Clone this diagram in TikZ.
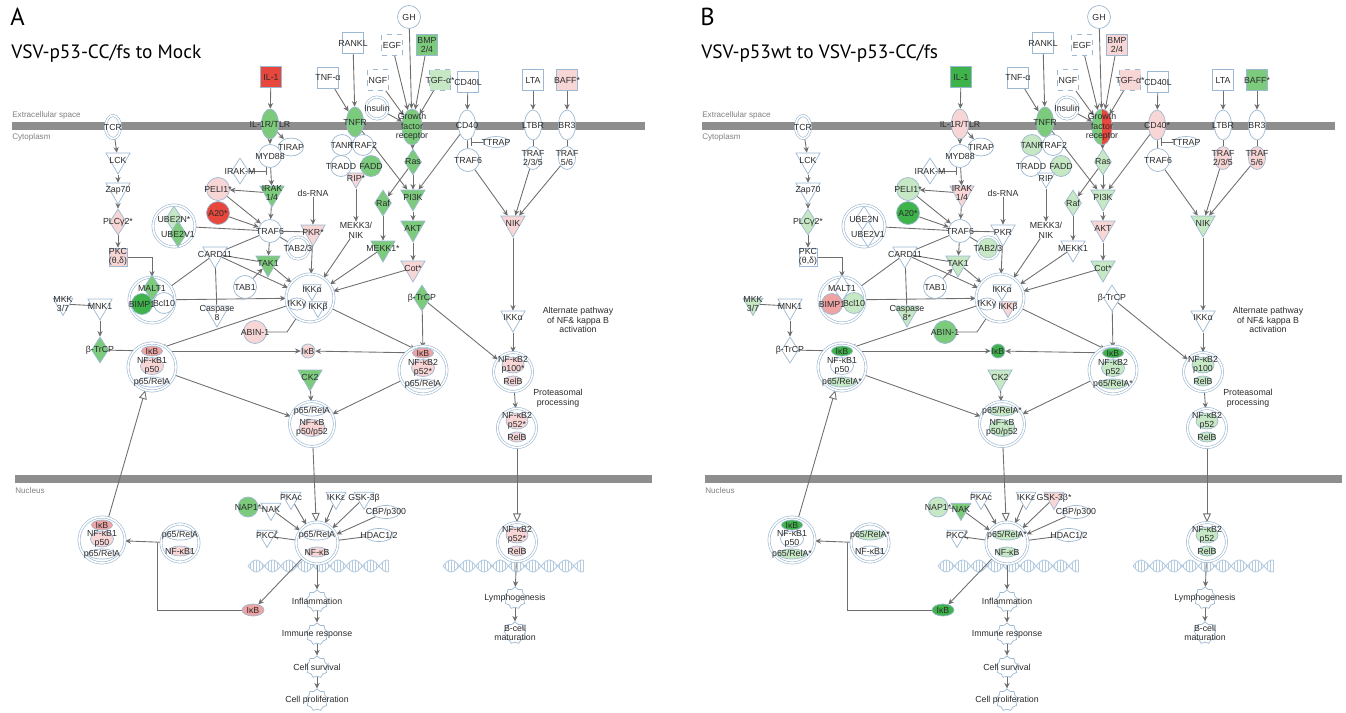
\documentclass[tikz,border=0pt]{standalone}
\usepackage{fontspec}
\setmainfont{Liberation Sans}
\newfontfamily\ttlfont{PT Sans}
\usetikzlibrary{arrows.meta,shapes.geometric,shapes.symbols}
\definecolor{outl}{HTML}{9DB8D2}
\definecolor{ecol}{HTML}{6E6E6E}
\definecolor{barc}{HTML}{8E8E8E}
\definecolor{txt}{HTML}{2B2B2B}
\definecolor{r3}{HTML}{E8473D}
\definecolor{r2}{HTML}{F0A3A3}
\definecolor{r1}{HTML}{F8D6D6}
\definecolor{g3}{HTML}{3DB34A}
\definecolor{g2}{HTML}{7CCB7C}
\definecolor{g1}{HTML}{C7E8C4}
\definecolor{dnac}{HTML}{B5CCE0}
\pgfdeclarelayer{back}
\pgfdeclarelayer{edges}
\pgfsetlayers{back,edges,main}
% panel switch: first value in panel A, second in panel B
\newcommand\ab[2]{\ifnum\pn=1 #1\else #2\fi}
\tikzset{
  mol/.style={draw=outl, fill=white, line width=0.4pt, inner sep=0pt},
  fl/.code 2 args={\ifnum\pn=1 \tikzset{fill=#1}\else\tikzset{fill=#2}\fi},
  gfr/.code={\ifnum\pn=2 \tikzset{path picture={\fill[name prefix=, r3] (path picture bounding box.north) rectangle (path picture bounding box.south east);}}\fi},
  lab/.style={font=\fontsize{5}{5.5}\selectfont, text=txt, align=center, inner sep=0pt},
  t/.style={label={[lab]center:#1}},
  bx/.style={mol, rectangle, minimum size=0.42cm},
  dbx/.style={bx, dashed},
  cir/.style={mol, circle, minimum size=0.46cm},
  rec/.style={mol, ellipse, minimum width=0.34cm, minimum height=0.6cm},
  hel/.style={mol, ellipse, minimum width=0.56cm, minimum height=0.26cm},
  kin/.style={mol, regular polygon, regular polygon sides=3, shape border rotate=180, minimum size=0.56cm},
  dia/.style={mol, diamond, minimum width=0.34cm, minimum height=0.52cm},
  cpx/.style={draw=outl, double=white, double distance=0.9pt, line width=0.35pt, circle, fill=white, inner sep=0pt, minimum size=#1},
  sub/.style={mol, ellipse, minimum width=#1, minimum height=0.2cm},
  sub/.default=0.42cm,
  fn/.style={mol, star, star points=9, star point ratio=1.2, minimum size=0.44cm},
  ln/.style={draw=ecol, line width=0.5pt},
  edge/.style={ln, -{Stealth[length=3.2pt, width=3pt]}},
  inh/.style={ln, -{Bar[width=4pt]}},
  trans/.style={ln, -{Triangle[open, length=5pt, width=4.5pt]}},
  area/.style={font=\fontsize{4.6}{5}\selectfont, text=gray, anchor=west, inner sep=0pt},
}
\begin{document}
\begin{tikzpicture}[x=0.02cm, y=-0.02cm]
  \useasboundingbox (0,0) rectangle (1346,713);
  \foreach \pn/\dx in {1/0,2/690} {
  \begin{scope}[shift={(\dx,0)}, name prefix=p\pn-]
  % membranes and DNA
  \begin{pgfonlayer}{back}
    \fill[barc] (12,122) rectangle (645,130);
    \fill[barc] (15,475) rectangle (652,483);
    \foreach \a/\b in {248/388,443/583} {
      \draw[dnac, line width=0.5pt] plot[domain=\a:\b, samples=70] (\x,{566+6*sin(11*(\x-\a))});
      \draw[dnac, line width=0.5pt] plot[domain=\a:\b, samples=70] (\x,{566-6*sin(11*(\x-\a))});
      \foreach \u in {2,5,...,140}
        \draw[dnac, line width=0.3pt] ({\a+\u},{566+6*sin(11*\u)}) -- ({\a+\u},{566-6*sin(11*\u)});
    }
  \end{pgfonlayer}
  \node[anchor=west, font=\ttlfont\fontsize{14}{14}\selectfont, inner sep=0pt] (tag) at (10,17) {\ab{A}{B}};
  \node[anchor=west, font=\ttlfont\fontsize{11}{12}\selectfont, inner sep=0pt] (cmp) at (11,54) {\ab{VSV-p53-CC/fs to Mock}{VSV-p53wt to VSV-p53-CC/fs}};
  \node[area] (ecs) at (12,115) {Extracellular space};
  \node[area] (cyt) at (12,137) {Cytoplasm};
  \node[area] (nuc) at (15,491) {Nucleus};
  % IL-1 / TCR branch
  \node[bx, fl={r3}{g3}, t=IL-1] (il1) at (271,77) {};
  \node[rec, fl={g2}{r1}, t=IL-1R/TLR] (ilr) at (270,124) {};
  \node[hel, minimum width=0.5cm, minimum height=0.36cm, t=TIRAP] (tirap) at (291,147) {};
  \node[cir, t=MYD88] (myd) at (270,156) {};
  \node[dia, t=IRAK-M] (irakm) at (240,171) {};
  \node[cir, fl={r1}{g1}, t=PELI1*] (peli) at (218,189) {};
  \node[kin, fl={g2}{r1}, t={IRAK\\1/4}] (irak) at (272,193) {};
  \node[cir, fl={r3}{g3}, t=A20*] (a20) at (218,213) {};
  \node[lab] (dsrna) at (313,193) {ds-RNA};
  \node[cpx=0.84cm] (ube) at (174,226) {};
  \node[dia, fl={g1}{white}, t=\ab{UBE2N*}{UBE2N}] (ube2n) at (174,219) {};
  \node[dia, fl={g2}{white}, t=UBE2V1] (ube2v) at (178,234) {};
  \node[cir, t=TRAF6] (traf6) at (270,231) {};
  \node[kin, fl={r1}{white}, t=\ab{PKR*}{PKR}] (pkr) at (313,232) {};
  \node[cpx=0.3cm, ellipse, minimum height=0.46cm, t=TCR] (tcr) at (113,127) {};
  \node[kin, t=LCK] (lck) at (118,160) {};
  \node[kin, t=Zap70] (zap) at (118,190) {};
  \node[dia, fl={r1}{g1}, t=PLCγ2*] (plc) at (118,222) {};
  \node[bx, fl={r1}{white}, minimum size=0.36cm, t={PKC\\(θ,δ)}] (pkc) at (118,257) {};
  \node[kin, t=CARD11] (card) at (215,254) {};
  \node[kin, fl={g2}{g1}, t=TAK1] (tak1) at (268,263) {};
  \node[cpx=0.44cm, fl={white}{g1}, t=TAB2/3] (tab23) at (298,248) {};
  \node[cir, t=TAB1] (tab1) at (245,287) {};
  \node[cpx=0.92cm] (malt) at (152,300) {};
  \node[dia, fl={g2}{white}, t=MALT1] (malt1) at (152,288) {};
  \node[cir, fl={g3}{r2}, minimum size=0.42cm, t=BIMP1] (bimp) at (142,304) {};
  \node[cir, fl={white}{g1}, minimum size=0.42cm, t=Bcl10] (bcl) at (164,303) {};
  \node[kin, fl={white}{g1}, t={Caspase\\\ab{8}{8*}}] (casp) at (217,313) {};
  \node[cpx=0.96cm] (ikk) at (310,298) {};
  \node[kin, minimum size=0.42cm, t=IKKα] (ikka) at (312,290) {};
  \node[hel, minimum width=0.36cm, minimum height=0.24cm, t=IKKγ] (ikkg) at (297,304) {};
  \node[kin, fl={white}{r1}, minimum size=0.42cm, t=IKKβ] (ikkb) at (318,307) {};
  \node[cir, fl={r1}{g2}, t=ABIN-1] (abin) at (255,332) {};
  \node[kin, fl={white}{g1}, minimum size=0.46cm, t={MKK\\3/7}] (mkk) at (63,304) {};
  \node[kin, t=MNK1] (mnk) at (100,306) {};
  \node[dia, fl={g2}{white}, t=β-TrCP] (btrl) at (100,350) {};
  \node[cpx=0.96cm] (lcx) at (152,367) {};
  \node[sub, fl={r2}{g3}, t=IκB] (likb) at (152,351) {};
  \node[sub=0.46cm, fl={r1}{white}, minimum height=0.34cm, t={NF-κB1\\p50}] (lnf) at (152,366) {};
  \node[sub=0.56cm, fl={white}{g1}, t=\ab{p65/RelA}{p65/RelA*}] (lp65) at (152,382) {};
  \node[mol, circle, minimum size=0.28cm, fl={r1}{g3}, t=IκB] (ikbm) at (308,351) {};
  \node[kin, fl={g2}{g1}, t=CK2] (ck2) at (310,377) {};
  \node[cpx=0.9cm] (pcx) at (312,424) {};
  \node[sub=0.54cm, fl={white}{g1}, t=\ab{p65/RelA}{p65/RelA*}] (pp65) at (312,411) {};
  \node[sub=0.52cm, fl={r1}{g1}, minimum height=0.34cm, t={NF-κB\\p50/p52}] (pnf) at (312,428) {};
  % ligands and receptors
  \node[cir, t=GH] (gh) at (409,17) {};
  \node[bx, t=RANKL] (rankl) at (353,43) {};
  \node[dbx, t=EGF] (egf) at (392,45) {};
  \node[bx, fl={g2}{r1}, t={BMP\\2/4}] (bmp) at (427,45) {};
  \node[bx, t=TNF-α] (tnfa) at (328,78) {};
  \node[dbx, t=NGF] (ngf) at (378,80) {};
  \node[dbx, fl={g1}{r1}, t=TGF-α*] (tgfa) at (440,80) {};
  \node[bx, t=CD40L] (cd40l) at (468,82) {};
  \node[bx, t=LTA] (lta) at (533,80) {};
  \node[bx, fl={r1}{g2}, t=BAFF*] (baff) at (567,80) {};
  \node[cpx=0.44cm, t=Insulin] (ins) at (377,108) {};
  \node[rec, fl={g2}{g2}, t=TNFR] (tnfr) at (355,122) {};
  \node[rec, fl={g2}{g2}, gfr, minimum width=0.4cm, minimum height=0.72cm, t={Growth\\factor\\receptor}] (gfr) at (412,127) {};
  \node[rec, fl={white}{r1}, t=\ab{CD40}{CD40*}] (cd40) at (467,125) {};
  \node[hel, minimum width=0.5cm, minimum height=0.22cm, t=TTRAP] (ttrap) at (496,142) {};
  \node[cir, t=TRAF6] (trafr) at (468,160) {};
  \node[rec, t=LTBR] (ltbr) at (533,125) {};
  \node[rec, t=BR3] (br3) at (567,125) {};
  \node[rec, fl={white}{r1}, minimum height=0.46cm, t={TRAF\\2/3/5}] (traf235) at (533,158) {};
  \node[rec, fl={white}{r1}, minimum height=0.46cm, t={TRAF\\5/6}] (traf56) at (567,158) {};
  \node[cir, fl={white}{g1}, minimum size=0.42cm, t=TANK] (tank) at (342,145) {};
  \node[cir, minimum size=0.42cm, t=TRAF2] (traf2) at (363,145) {};
  \node[cir, minimum size=0.42cm, t=TRADD] (tradd) at (341,166) {};
  \node[cir, fl={g2}{g1}, minimum size=0.42cm, t=FADD] (fadd) at (371,166) {};
  \node[kin, fl={r1}{white}, minimum size=0.4cm, t=\ab{RIP*}{RIP}] (rip) at (356,178) {};
  \node[dia, fl={g2}{g1}, t=Ras] (ras) at (413,162) {};
  \node[kin, fl={g2}{g1}, t=PI3K] (pi3k) at (413,197) {};
  \node[dia, fl={g2}{g1}, t=Raf] (raf) at (383,203) {};
  \node[kin, fl={g2}{r1}, t=AKT] (akt) at (413,228) {};
  \node[lab] (mekk3) at (356,230) {MEKK3/\\NIK};
  \node[kin, fl={g2}{white}, t=\ab{MEKK1*}{MEKK1}] (mekk1) at (383,248) {};
  \node[kin, fl={r1}{g1}, t=Cot*] (cot) at (413,268) {};
  \node[dia, fl={g2}{white}, t=β-TrCP] (btrr) at (422,298) {};
  \node[cpx=0.96cm] (rcx) at (423,370) {};
  \node[sub, fl={r2}{g3}, t=IκB] (rikb) at (423,353) {};
  \node[sub=0.46cm, fl={r1}{g1}, minimum height=0.34cm, t={NF-κB2\\\ab{p52*}{p52}}] (rnf) at (423,368) {};
  \node[sub=0.56cm, fl={white}{g1}, t=\ab{p65/RelA}{p65/RelA*}] (rp65) at (423,384) {};
  % alternate pathway
  \node[kin, fl={r1}{g1}, t=NIK] (nik) at (513,223) {};
  \node[kin, t=IKKα] (ikka2) at (513,318) {};
  \node[lab] (altp) at (578,320) {Alternate pathway\\of NF\& kappa B\\activation};
  \node[cpx=0.78cm] (p100) at (513,372) {};
  \node[sub=0.44cm, fl={r1}{g1}, minimum height=0.32cm, t={NF-κB2\\\ab{p100*}{p100}}] (p100a) at (513,365) {};
  \node[sub=0.34cm, fl={r1}{g1}, t=RelB] (relb1) at (513,381) {};
  \node[lab] (prot) at (558,398) {Proteasomal\\processing};
  \node[cpx=0.78cm] (p52c) at (517,428) {};
  \node[sub=0.44cm, fl={r1}{g1}, minimum height=0.32cm, t={NF-κB2\\\ab{p52*}{p52}}] (p52a) at (517,421) {};
  \node[sub=0.34cm, fl={r1}{g1}, t=RelB] (relb2) at (517,437) {};
  % nucleus
  \node[cpx=0.92cm] (nlcx) at (102,540) {};
  \node[sub, fl={r2}{g3}, t=IκB] (nlikb) at (102,525) {};
  \node[sub=0.46cm, fl={r1}{white}, minimum height=0.32cm, t={NF-κB1\\p50}] (nlnf) at (102,539) {};
  \node[sub=0.56cm, fl={white}{g1}, t=\ab{p65/RelA}{p65/RelA*}] (nlp65) at (102,554) {};
  \node[cpx=0.76cm] (nmcx) at (180,543) {};
  \node[sub=0.56cm, fl={white}{g1}, t=\ab{p65/RelA}{p65/RelA*}] (nmp65) at (180,535) {};
  \node[sub=0.46cm, fl={r1}{white}, t=NF-κB1] (nmnf) at (180,551) {};
  \node[cir, fl={g2}{g1}, minimum size=0.4cm, t=NAP1*] (nap1) at (248,507) {};
  \node[kin, fl={white}{g2}, minimum size=0.46cm, t=NAK] (nak) at (271,509) {};
  \node[kin, minimum size=0.46cm, t=PKAc] (pkac) at (291,498) {};
  \node[kin, minimum size=0.46cm, t=PKCζ] (pkcz) at (267,536) {};
  \node[kin, minimum size=0.46cm, t=IKKε] (ikke) at (336,498) {};
  \node[kin, fl={white}{r1}, minimum size=0.46cm, t=\ab{GSK-3β}{GSK-3β*}] (gsk) at (364,498) {};
  \node[hel, t=CBP/p300] (cbp) at (386,512) {};
  \node[hel, t=HDAC1/2] (hdac) at (379,535) {};
  \node[cpx=0.84cm] (ncx) at (317,543) {};
  \node[sub=0.56cm, fl={white}{g1}, t=\ab{p65/RelA}{p65/RelA*}] (np65) at (317,535) {};
  \node[sub=0.42cm, fl={r1}{g1}, t=NF-κB] (nnf) at (317,552) {};
  \node[sub=0.44cm, fl={r2}{g3}, minimum height=0.24cm, t=IκB] (nikb) at (253,610) {};
  \node[fn, t=Inflammation] (infl) at (317,601) {};
  \node[fn, t=Immune response] (imm) at (317,634) {};
  \node[fn, t=Cell survival] (surv) at (317,667) {};
  \node[fn, t=Cell proliferation] (prol) at (317,700) {};
  \node[cpx=0.78cm] (nrcx) at (517,542) {};
  \node[sub=0.44cm, fl={r1}{g1}, minimum height=0.32cm, t={NF-κB2\\\ab{p52*}{p52}}] (nra) at (517,535) {};
  \node[sub=0.34cm, fl={r1}{g1}, t=RelB] (nrb) at (517,551) {};
  \node[fn, t=Lymphogenesis] (lymph) at (515,598) {};
  \node[fn, t={B-cell\\maturation}] (bcell) at (515,633) {};
  \coordinate (mk) at (267,171);
  \coordinate (ak) at (287,332);
  \coordinate (tk) at (471,142);
  \coordinate (jn) at (157,543);
  % connectors
  \begin{pgfonlayer}{edges}
  \draw[edge] (il1) -- (ilr);
  \draw[edge] (ilr) -- (tirap);
  \draw[edge] (ilr) -- (myd);
  \draw[edge] (myd) -- (irak);
  \draw[inh] (irakm) -- (mk);
  \draw[edge] (irak) -- (peli);
  \draw[edge] (irak) -- (traf6);
  \draw[edge] (peli) -- (traf6);
  \draw[edge] (a20) -- (traf6);
  \draw[ln] (ube) -- (traf6);
  \draw[ln] (traf6) -- (pkr);
  \draw[edge] (dsrna) -- (pkr);
  \draw[edge] (traf6) -- (tak1);
  \draw[ln] (traf6) -- (tab23);
  \draw[ln] (traf6) -- (card);
  \draw[ln] (card) -- (tak1);
  \draw[edge] (card) -- (ikk);
  \draw[ln] (card) -- (malt);
  \draw[ln] (card) -- (casp);
  \draw[edge] (tab1) -- (tak1);
  \draw[edge] (tak1) -- (ikk);
  \draw[edge] (pkr) -- (ikk);
  \draw[edge] (mekk3) -- (ikk);
  \draw[edge] (mekk1) -- (ikk);
  \draw[edge] (cot) -- (ikk);
  \draw[edge] (malt) -- (ikk);
  \draw[edge] (ikk) -- (likb);
  \draw[edge] (ikk) -- (rikb);
  \draw[inh] (abin) -- (ak) -- (ikk);
  \draw[edge] (tcr) -- (lck);
  \draw[edge] (lck) -- (zap);
  \draw[edge] (zap) -- (plc);
  \draw[edge] (plc) -- (pkc);
  \draw[edge] (pkc) -| (malt);
  \draw[ln] (mkk) -- (mnk);
  \draw[edge] (mnk) -- (btrl);
  \draw[edge] (btrl) -- (likb);
  \draw[edge] (likb) -- (ikbm);
  \draw[edge] (rikb) -- (ikbm);
  \draw[edge] (ck2) -- (pcx);
  \draw[edge] (lcx) -- (pcx);
  \draw[edge] (rcx) -- (pcx);
  \draw[edge] (btrr) -- (rikb);
  \draw[edge] (btrr) -- (p100);
  \draw[edge] (tnfa) -- (tnfr);
  \draw[edge] (rankl) -- (tnfr);
  \draw[edge] (tnfr) -- (pi3k);
  \draw[edge] (rip) -- (mekk3);
  \foreach \s in {ins,ngf,egf,gh,bmp,tgfa} \draw[edge] (\s) -- (gfr);
  \draw[edge] (gfr) -- (ras);
  \draw[edge] (ras) -- (raf);
  \draw[edge] (ras) -- (pi3k);
  \draw[edge] (raf) -- (mekk1);
  \draw[edge] (pi3k) -- (akt);
  \draw[edge] (akt) -- (cot);
  \draw[edge] (cd40l) -- (cd40);
  \draw[edge] (cd40) -- (pi3k);
  \draw[ln] (cd40) -- (trafr);
  \draw[inh] (ttrap) -- (tk);
  \draw[edge] (trafr) -- (nik);
  \draw[edge] (traf235) -- (nik);
  \draw[edge] (traf56) -- (nik);
  \draw[edge] (lta) -- (ltbr);
  \draw[ln] (ltbr) -- (traf235);
  \draw[edge] (baff) -- (br3);
  \draw[ln] (br3) -- (traf56);
  \draw[edge] (nik) -- (ikka2);
  \draw[edge] (ikka2) -- (p100);
  \draw[edge] (p100) -- (p52c);
  \draw[trans] (p52c) -- (nrcx);
  \draw[edge] (nrcx) -- (lymph);
  \draw[edge] (lymph) -- (bcell);
  \draw[trans] (pcx) -- (ncx);
  \draw[trans] (nlcx) -- (lcx);
  \draw[edge] (nmcx) -- (nlcx);
  \draw[ln] (nikb) -| (jn);
  \draw[edge] (ncx) -- (nikb);
  \draw[ln] (nap1) -- (nak);
  \foreach \s in {nak,pkac,ikke,gsk,cbp} \draw[edge] (\s) -- (ncx);
  \draw[ln] (pkcz) -- (ncx);
  \draw[ln] (hdac) -- (ncx);
  \draw[edge] (ncx) -- (infl);
  \draw[edge] (infl) -- (imm);
  \draw[edge] (imm) -- (surv);
  \draw[edge] (surv) -- (prol);
  \end{pgfonlayer}
  \end{scope}
  }
\end{tikzpicture}
\end{document}
